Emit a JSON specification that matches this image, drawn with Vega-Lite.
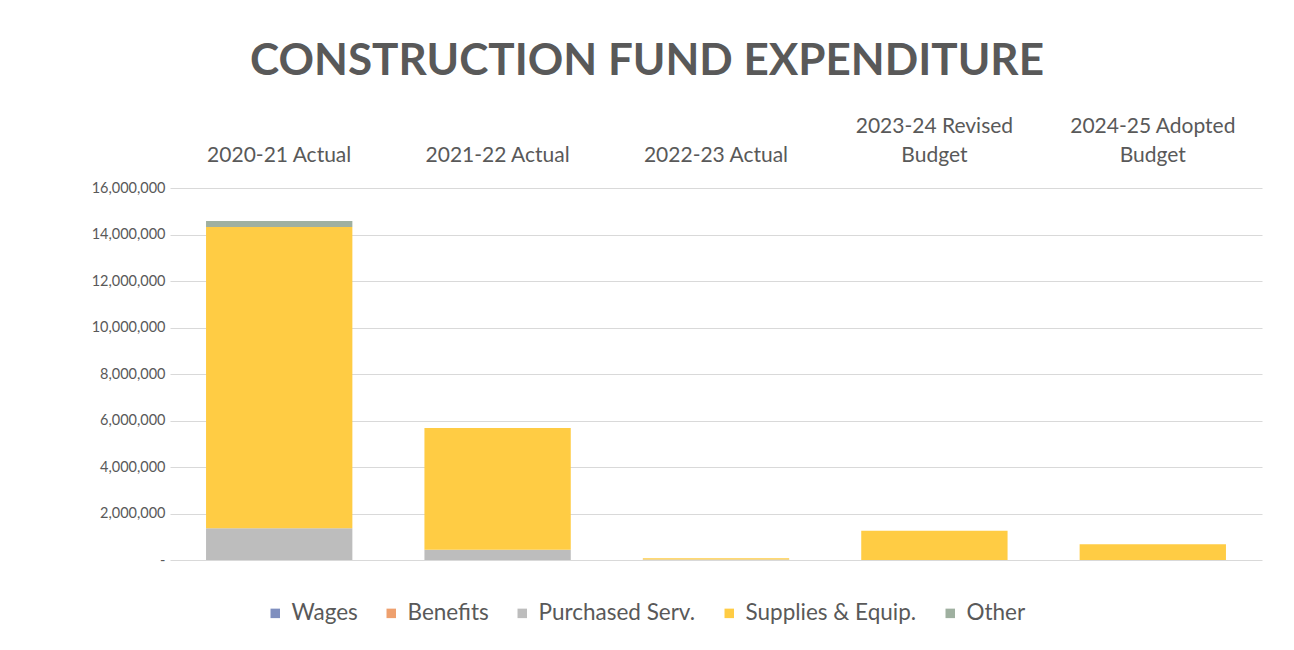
{
  "$schema": "https://vega.github.io/schema/vega-lite/v6.json",
  "width": 1092,
  "height": 372,
  "autosize": {"type": "none"},
  "padding": {"left": 170, "top": 188, "right": 32, "bottom": 90},
  "background": "white",
  "title": {
    "text": "CONSTRUCTION FUND EXPENDITURE",
    "font": "Lato",
    "fontSize": 44,
    "fontWeight": "bold",
    "color": "#595959",
    "anchor": "middle",
    "dx": -69,
    "offset": 31
  },
  "data": {
    "values": [
      {"year": "2020-21 Actual", "category": "Wages", "idx": 1, "amount": 0},
      {"year": "2020-21 Actual", "category": "Benefits", "idx": 2, "amount": 0},
      {"year": "2020-21 Actual", "category": "Purchased Serv.", "idx": 3, "amount": 1370000},
      {"year": "2020-21 Actual", "category": "Supplies & Equip.", "idx": 4, "amount": 12950000},
      {"year": "2020-21 Actual", "category": "Other", "idx": 5, "amount": 260000},
      {"year": "2021-22 Actual", "category": "Wages", "idx": 1, "amount": 0},
      {"year": "2021-22 Actual", "category": "Benefits", "idx": 2, "amount": 0},
      {"year": "2021-22 Actual", "category": "Purchased Serv.", "idx": 3, "amount": 440000},
      {"year": "2021-22 Actual", "category": "Supplies & Equip.", "idx": 4, "amount": 5240000},
      {"year": "2021-22 Actual", "category": "Other", "idx": 5, "amount": 0},
      {"year": "2022-23 Actual", "category": "Wages", "idx": 1, "amount": 0},
      {"year": "2022-23 Actual", "category": "Benefits", "idx": 2, "amount": 0},
      {"year": "2022-23 Actual", "category": "Purchased Serv.", "idx": 3, "amount": 20000},
      {"year": "2022-23 Actual", "category": "Supplies & Equip.", "idx": 4, "amount": 60000},
      {"year": "2022-23 Actual", "category": "Other", "idx": 5, "amount": 0},
      {"year": "2023-24 Revised\nBudget", "category": "Wages", "idx": 1, "amount": 0},
      {"year": "2023-24 Revised\nBudget", "category": "Benefits", "idx": 2, "amount": 0},
      {"year": "2023-24 Revised\nBudget", "category": "Purchased Serv.", "idx": 3, "amount": 0},
      {"year": "2023-24 Revised\nBudget", "category": "Supplies & Equip.", "idx": 4, "amount": 1260000},
      {"year": "2023-24 Revised\nBudget", "category": "Other", "idx": 5, "amount": 0},
      {"year": "2024-25 Adopted\nBudget", "category": "Wages", "idx": 1, "amount": 0},
      {"year": "2024-25 Adopted\nBudget", "category": "Benefits", "idx": 2, "amount": 0},
      {"year": "2024-25 Adopted\nBudget", "category": "Purchased Serv.", "idx": 3, "amount": 0},
      {"year": "2024-25 Adopted\nBudget", "category": "Supplies & Equip.", "idx": 4, "amount": 675000},
      {"year": "2024-25 Adopted\nBudget", "category": "Other", "idx": 5, "amount": 0}
    ]
  },
  "mark": {"type": "bar"},
  "encoding": {
    "x": {
      "field": "year",
      "type": "nominal",
      "sort": null,
      "scale": {"paddingInner": 0.33, "paddingOuter": 0.165},
      "axis": {
        "orient": "top",
        "title": null,
        "labelAngle": 0,
        "labelExpr": "indexof(datum.label, '\\n') >= 0 ? split(datum.label, '\\n') : ['', datum.label]",
        "labelFont": "Lato",
        "labelFontSize": 21,
        "labelColor": "#595959",
        "labelPadding": 52,
        "labelLineHeight": 29,
        "ticks": false,
        "domain": false
      }
    },
    "y": {
      "field": "amount",
      "type": "quantitative",
      "aggregate": "sum",
      "scale": {"domain": [0, 16000000]},
      "axis": {
        "title": null,
        "values": [0, 2000000, 4000000, 6000000, 8000000, 10000000, 12000000, 14000000, 16000000],
        "labelExpr": "datum.value == 0 ? '-' : format(datum.value, ',')",
        "labelFont": "Lato",
        "labelFontSize": 14.5,
        "labelColor": "#595959",
        "labelPadding": 5,
        "ticks": false,
        "domain": false,
        "grid": true,
        "gridColor": "#d9d9d9",
        "gridWidth": 1.2
      }
    },
    "color": {
      "field": "category",
      "type": "nominal",
      "sort": ["Wages", "Benefits", "Purchased Serv.", "Supplies & Equip.", "Other"],
      "scale": {
        "domain": ["Wages", "Benefits", "Purchased Serv.", "Supplies & Equip.", "Other"],
        "range": ["#7f8fbf", "#eea06e", "#bdbdbd", "#ffcc44", "#9fb0a0"]
      },
      "legend": {
        "title": null,
        "orient": "none",
        "direction": "horizontal",
        "legendX": 94,
        "legendY": 414,
        "symbolType": "square",
        "symbolSize": 90,
        "symbolStrokeWidth": 0,
        "labelFont": "Lato",
        "labelFontSize": 22.5,
        "labelLimit": 400,
        "labelColor": "#595959",
        "columnPadding": 22,
        "labelOffset": 5
      }
    },
    "order": {"field": "idx", "type": "quantitative", "sort": "ascending"}
  },
  "config": {"view": {"stroke": null}}
}
